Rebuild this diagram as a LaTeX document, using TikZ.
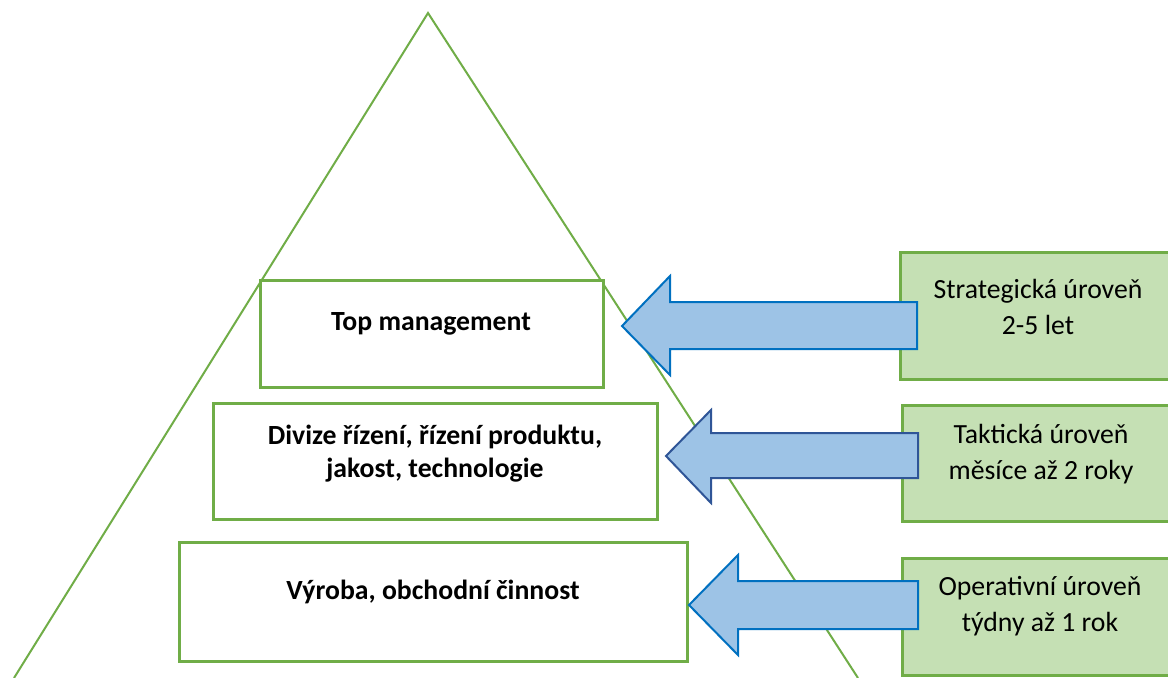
\documentclass[tikz,border=0pt]{standalone}
\usepackage{fontspec}
\setmainfont{Carlito}
\definecolor{grn}{HTML}{70AD47}
\definecolor{grnfill}{HTML}{C5E0B4}
\definecolor{arrfill}{HTML}{9DC3E6}
\definecolor{arrblue}{HTML}{0070C0}
\definecolor{arrnavy}{HTML}{2F5597}
\tikzset{
  pbox/.style={draw=grn, line width=2.25pt, fill=white, rectangle, inner sep=0pt},
  gbox/.style={draw=grn, line width=2.25pt, fill=grnfill, rectangle, inner sep=0pt},
  btext/.style={font=\fontsize{20.8}{24.75}\selectfont\bfseries, align=center, inner sep=0pt},
  rtext/.style={font=\fontsize{20.8}{27}\selectfont, align=center, inner sep=0pt},
  blockarrow/.style={fill=arrfill, line width=1.5pt, line join=miter},
  tri/.style={draw=grn, line width=1.5pt}
}
\begin{document}
\begin{tikzpicture}[x=0.75pt,y=-0.75pt]
\clip (0,0) rectangle (1168,678);
\fill[white] (0,0) rectangle (1168,678);
% pyramid
\coordinate (apex) at (428,13);
\coordinate (bl) at (14,678);
\coordinate (br) at (858,678);
\draw[tri] (bl) -- (apex) -- (br);
% pyramid boxes
\node[pbox, minimum width=257.25pt, minimum height=80.25pt] (top) at (431.5,333.5) {};
\node[btext] (toptext) at (431,324) {Top management};
\node[pbox, minimum width=333pt, minimum height=87pt] (div) at (435,461) {};
\node[btext] (divtext) at (435,454) {Divize řízení, řízení produktu,\\jakost, technologie};
\node[pbox, minimum width=381pt, minimum height=89.25pt] (vyr) at (433,601.5) {};
\node[btext] (vyrtext) at (433,592) {Výroba, obchodní činnost};
% right boxes
\node[gbox, minimum width=217.5pt, minimum height=95.25pt] (str) at (1045,315.5) {};
\node[rtext] (strtext) at (1038,307) {Strategická úroveň\\2-5 let};
\node[gbox, minimum width=216pt, minimum height=87pt] (tak) at (1046,463) {};
\node[rtext] (taktext) at (1041,454) {Taktická úroveň\\měsíce až 2 roky};
\node[gbox, minimum width=216pt, minimum height=87.75pt] (ope) at (1046,616.5) {};
\node[rtext] (opetext) at (1040,606) {Operativní úroveň\\týdny až 1 rok};
% block arrows
\draw[blockarrow, draw=arrblue] (622,326) -- (670,276) -- (670,302) -- (917,302) -- (917,349) -- (670,349) -- (670,375) -- cycle;
\draw[blockarrow, draw=arrnavy] (666,456) -- (711,410) -- (711,433) -- (918,433) -- (918,478) -- (711,478) -- (711,503) -- cycle;
\draw[blockarrow, draw=arrblue] (689,605) -- (738,555) -- (738,581) -- (918,581) -- (918,629) -- (738,629) -- (738,655) -- cycle;
\end{tikzpicture}
\end{document}
